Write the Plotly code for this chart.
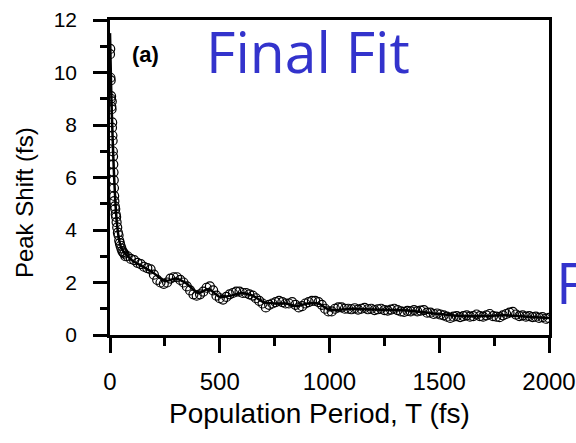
import plotly.graph_objects as go

# Measured data: population period T (fs) and peak shift (fs)
T_data = [0, 1, 2, 3, 4, 5, 6, 7, 8, 9, 10, 11, 12, 13, 14, 15, 16, 17, 18, 19, 20,
          22, 24, 26, 28, 30, 33, 36, 39, 42, 45, 48, 52, 56, 60, 65, 70,
          80, 95, 110, 125, 140, 155, 170, 185, 200, 215, 230, 245, 260, 275, 290,
          305, 320, 335, 350, 365, 380, 395, 410, 425, 440, 455, 470, 485, 500,
          515, 530, 545, 560, 575, 590, 605, 620, 635, 650, 665, 680, 695, 710,
          725, 740, 755, 770, 785, 800, 815, 830, 845, 860, 875, 890, 905, 920,
          935, 950, 965, 980, 995, 1010, 1025, 1040, 1055, 1070, 1085, 1100, 1115,
          1130, 1145, 1160, 1175, 1190, 1205, 1220, 1235, 1250, 1265, 1280, 1295,
          1310, 1325, 1340, 1355, 1370, 1385, 1400, 1415, 1430, 1445, 1460, 1475,
          1490, 1505, 1520, 1535, 1550, 1565, 1580, 1595, 1610, 1625, 1640, 1655,
          1670, 1685, 1700, 1715, 1730, 1745, 1760, 1775, 1790, 1805, 1820, 1835,
          1850, 1865, 1880, 1895, 1910, 1925, 1940, 1955, 1970, 1985, 2000]
shift_data = [10.7, 10.9, 9.8, 9.7, 9.0, 9.1, 8.7, 8.6, 8.9, 7.9, 8.1, 7.6, 7.4, 7.0, 6.8, 6.5, 6.2, 5.9, 5.6, 5.3, 5.1,
              4.9, 4.8, 4.6, 4.5, 4.3, 4.1, 3.9, 3.8, 3.6, 3.5, 3.4, 3.3, 3.2, 3.15, 3.1, 3.0,
              3.0, 2.9, 2.85, 2.75, 2.7, 2.6, 2.55, 2.5, 2.3, 2.1, 2.0, 1.95, 2.0, 2.15, 2.2,
              2.2, 2.1, 2.0, 1.85, 1.7, 1.55, 1.5, 1.55, 1.65, 1.8, 1.85, 1.7, 1.5, 1.4,
              1.35, 1.45, 1.55, 1.6, 1.65, 1.65, 1.6, 1.6, 1.55, 1.5, 1.4, 1.3, 1.2, 1.05,
              1.15, 1.2, 1.25, 1.3, 1.25, 1.2, 1.2, 1.25, 1.15, 1.05, 1.1, 1.2, 1.25, 1.3,
              1.3, 1.25, 1.15, 1.0, 0.9, 0.9, 1.0, 1.05, 1.05, 1.0, 1.0, 0.98, 1.02,
              0.97, 1.0, 1.03, 0.98, 1.0, 0.95, 0.98, 1.0, 0.95, 0.93, 0.97, 1.0,
              0.95, 0.9, 0.88, 0.92, 0.9, 0.95, 0.9, 0.93, 0.95, 0.85, 0.85, 0.8,
              0.82, 0.78, 0.75, 0.7, 0.65, 0.7, 0.72, 0.68, 0.72, 0.75, 0.7, 0.72,
              0.78, 0.72, 0.7, 0.75, 0.8, 0.72, 0.7, 0.68, 0.75, 0.8, 0.85, 0.88,
              0.78, 0.72, 0.75, 0.7, 0.72, 0.68, 0.7, 0.65, 0.68, 0.62, 0.65]

# Fit curve
T_fit = [0, 5, 10, 15, 20, 25, 30, 40, 50, 60, 80, 100, 150, 200, 250, 300, 350, 400,
         450, 500, 550, 600, 650, 700, 750, 800, 850, 900, 950, 1000, 1100, 1200,
         1300, 1400, 1500, 1600, 1700, 1800, 1900, 2000]
shift_fit = [11.5, 9.5, 8.0, 6.8, 5.8, 5.0, 4.4, 3.7, 3.35, 3.2, 3.0, 2.85, 2.6, 2.35,
             2.05, 2.15, 1.95, 1.6, 1.75, 1.45, 1.5, 1.6, 1.5, 1.25, 1.2, 1.2, 1.1,
             1.2, 1.2, 0.95, 1.0, 0.97, 0.95, 0.9, 0.8, 0.72, 0.72, 0.75, 0.7, 0.65]

x_ticks = [0, 500, 1000, 1500, 2000]
y_ticks = [0, 2, 4, 6, 8, 10, 12]

fig = go.Figure()
fig.add_trace(go.Scatter(x=T_fit, y=shift_fit, mode="lines",
                         line=dict(color="black", width=2.5, shape="spline", smoothing=0.6),
                         showlegend=False))
fig.add_trace(go.Scatter(x=T_data, y=shift_data, mode="markers",
                         marker=dict(symbol="circle-open", size=9, color="black",
                                     line=dict(width=1.2, color="black")),
                         showlegend=False))

FONT = "Arial, Liberation Sans, sans-serif"

fig.update_layout(
    width=576, height=443,
    margin=dict(l=110, r=27, t=20, b=108, autoexpand=False),
    paper_bgcolor="white", plot_bgcolor="white",
    xaxis=dict(range=[0, 2000], tickvals=x_ticks, ticks="outside", ticklen=15, tickwidth=2.5,
               tickcolor="black", showline=True, linewidth=2.5, linecolor="black", mirror=True,
               showgrid=False, zeroline=False,
               tickfont=dict(family=FONT, size=24, color="black"),
               ticklabelstandoff=8, automargin=False,
               minor=dict(dtick=250, ticks="outside", ticklen=8, tickwidth=2.5, tickcolor="black",
                          showgrid=False)),
    yaxis=dict(range=[0, 12], tickvals=y_ticks, ticks="outside", ticklen=14, tickwidth=2.5,
               tickcolor="black", showline=True, linewidth=2.5, linecolor="black", mirror=True,
               showgrid=False, zeroline=False,
               tickfont=dict(family=FONT, size=21, color="black"), ticklabelstandoff=12,
               automargin=False,
               minor=dict(dtick=1, ticks="outside", ticklen=7, tickwidth=2.5, tickcolor="black",
                          showgrid=False)),
    annotations=[
        dict(text="Population Period, T (fs)", xref="paper", yref="paper", x=0.478, y=-0.25,
             xanchor="center", yanchor="middle", showarrow=False,
             font=dict(family=FONT, size=28, color="black")),
        dict(text="Peak Shift (fs)", xref="paper", yref="paper", x=-0.195, y=0.42,
             xanchor="center", yanchor="middle", showarrow=False, textangle=-90,
             font=dict(family=FONT, size=24, color="black")),
        dict(text="<b>(a)</b>", xref="paper", yref="paper", x=0.082, y=0.889,
             xanchor="center", yanchor="middle", showarrow=False,
             font=dict(family=FONT, size=22, color="black")),
        dict(text="Final Fit", xref="paper", yref="paper", x=0.452, y=0.902,
             xanchor="center", yanchor="middle", showarrow=False,
             font=dict(family="Open Sans, sans-serif", size=57, color="#3333CC")),
        dict(text="F", xref="paper", yref="paper", x=1.0, xshift=5, y=0.168,
             xanchor="left", yanchor="middle", showarrow=False,
             font=dict(family="Open Sans, sans-serif", size=57, color="#3333CC")),
    ],
)

# Remove the default 8px page margin so the figure sits at the window's corner.
fig.write_html("out.html", config={"displayModeBar": False},
               post_script="document.body.style.margin='0';")
